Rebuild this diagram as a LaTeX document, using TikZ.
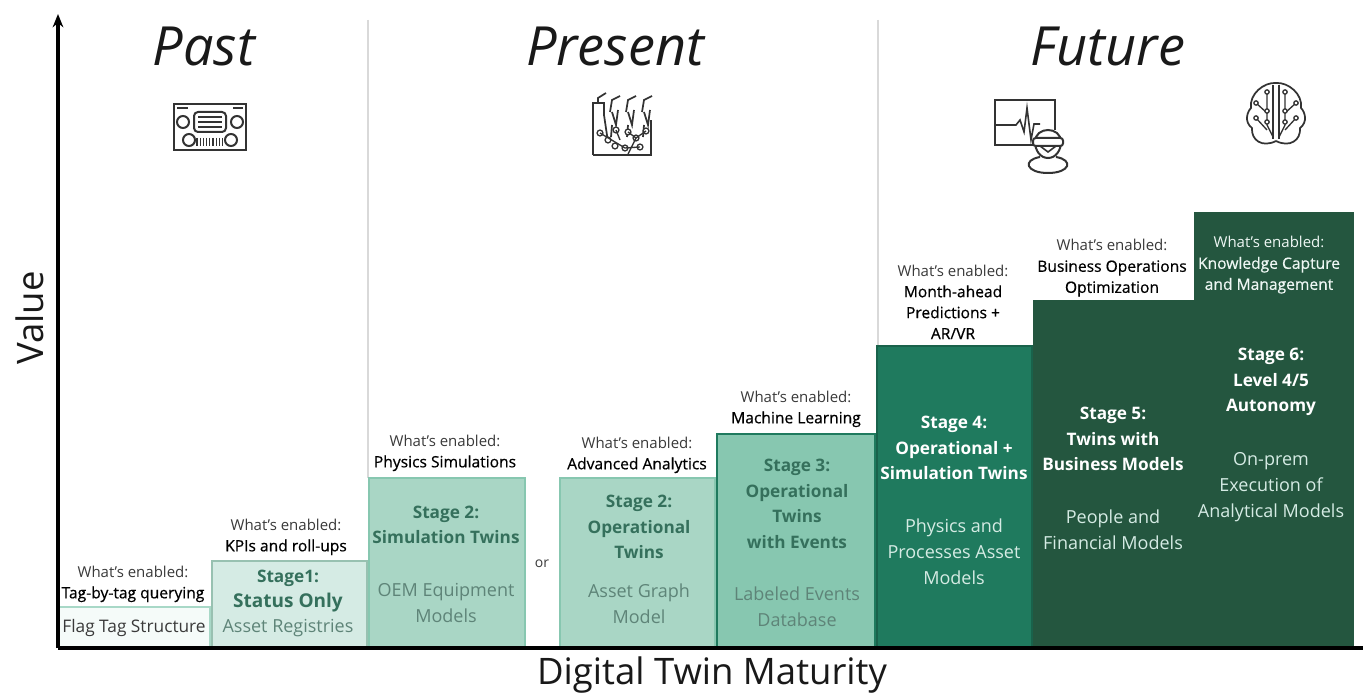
\documentclass[tikz,border=0pt]{standalone}
\usepackage{fontspec}
\setmainfont{Open Sans}
\newfontfamily\semi{Open Sans}[FakeBold=0.6]
\usetikzlibrary{arrows.meta}
\definecolor{lt}{HTML}{A8D8C7}
\definecolor{c0}{HTML}{F5FBF9}
\definecolor{c1}{HTML}{D5EBE4}
\definecolor{c2}{HTML}{A9D6C5}
\definecolor{c3}{HTML}{87C7B0}
\definecolor{c4}{HTML}{1F7A5E}
\definecolor{c5}{HTML}{24563F}
\definecolor{tg}{HTML}{35705C}
\definecolor{td}{HTML}{3A3A3A}
\definecolor{tm}{HTML}{5E8478}
\definecolor{ln}{HTML}{D9D9D9}
\tikzset{
  txt/.style={align=center,inner sep=0pt,font=\fontsize{17.3}{21}\selectfont,text=td},
  en/.style={align=center,inner sep=0pt,text=black,font=\semi\fontsize{15.6}{21}\selectfont},
  hd/.style={align=center,inner sep=0pt,font=\fontsize{17.2}{25.6}\selectfont\bfseries},
  bd/.style={align=center,inner sep=0pt,font=\fontsize{18}{26}\selectfont},
  era/.style={inner sep=0pt,font=\fontsize{54}{60}\selectfont\itshape,text=black!90},
  icon/.style={line width=1.5pt,draw=black!80},
}
\newcommand{\wh}[1]{{\rmfamily\fontsize{15}{21}\selectfont\textcolor{td}{What’s enabled:}}\\#1}
\begin{document}
\begin{tikzpicture}[x=0.75pt,y=-0.75pt,every node/.append style={scale=0.75}]
\useasboundingbox (0,0) rectangle (1363,695);
\fill[white] (0,0) rectangle (1363,695);
% separators
\coordinate (s1t) at (368,20); \coordinate (s1b) at (368,478);
\coordinate (s2t) at (878,20); \coordinate (s2b) at (878,346);
\draw[ln,line width=1.7pt] (s1t)--(s1b);
\draw[ln,line width=1.7pt] (s2t)--(s2b);
% boxes
\newcommand{\bx}[6]{\draw[draw=#6,fill=#5,line width=1.8pt] (#1,#2) rectangle (#3,#4);}
\bx{59}{607}{210}{647}{c0}{lt}
\bx{212}{561}{367}{647}{c1}{c2!90!black}
\bx{369}{478}{525}{647}{c2}{c3}
\bx{560}{478}{715}{647}{c2}{c3}
\bx{717}{434}{875}{647}{c3}{c4}
\bx{877}{346}{1032}{647}{c4}{c4!80!black}
\bx{1034}{301}{1193}{647}{c5}{c5}
\bx{1195}{213}{1353}{647}{c5}{c5}
% axes
\coordinate (o) at (58,648); \coordinate (ya) at (58,14); \coordinate (xa) at (1363,648);
\draw[black,line width=2.4pt,-{Stealth[length=10pt,width=8pt]}] (o)--(ya);
\draw[black,line width=2.4pt] (o)--(xa);
% eras
\node[era] (past) at (204,46) {Past};
\node[era] (present) at (615,46) {Present};
\node[era] (future) at (1108,46) {Future};
\node[inner sep=0pt,font=\fontsize{36.5}{40}\selectfont,rotate=90,text=black!90] (value) at (30,318) {Value};
\node[inner sep=0pt,font=\fontsize{36.5}{42}\selectfont,text=black!90] (dtm) at (712,675) {Digital Twin Maturity};
% enabled
\node[en] (e0) at (133,584) {\wh{Tag-by-tag querying}};
\node[en] (e1) at (286,537) {\wh{KPIs and roll-ups}};
\node[en] (e2) at (445,453) {\wh{Physics Simulations}};
\node[en] (e3) at (637,455) {\wh{Advanced Analytics}};
\node[en] (e4) at (796,409) {\wh{Machine Learning}};
\node[en] (e5) at (953,302) {\wh{Month-ahead\\Predictions +\\AR/VR}};
\node[en] (e6) at (1112,268) {\wh{Business Operations\\Optimization}};
\node[en,text=c1!40!white] (e7) at (1269,265) {{\rmfamily\fontsize{15}{21}\selectfont What’s enabled:}\\Knowledge Capture\\and Management};
% stages
\node[txt] (t0) at (134,628) {Flag Tag Structure};
\node[hd,text=tg] (h1) at (288,591) {Stage1:\\[-1pt]{\fontsize{19}{24}\selectfont Status Only}};
\node[bd,text=tm] (b1) at (288,628) {Asset Registries};
\node[hd,text=tg] (h2) at (446,525) {Stage 2:\\Simulation Twins};
\node[bd,text=tm] (b2) at (446,603) {OEM Equipment\\Models};
\node[inner sep=0pt,font=\fontsize{14}{16}\selectfont,text=td] (or) at (542,564) {or};
\node[hd,text=tg] (h3) at (639,527) {Stage 2:\\Operational\\Twins};
\node[bd,text=tm] (b3) at (639,604) {Asset Graph\\Model};
\node[hd,text=tg] (h4) at (797,504) {Stage 3:\\Operational\\Twins\\with Events};
\node[bd,text=tm] (b4) at (797,607) {Labeled Events\\Database};
\node[hd,text=white] (h5) at (954,448) {Stage 4:\\Operational +\\Simulation Twins};
\node[bd,text=c1] (b5) at (954,552) {Physics and\\Processes Asset\\Models};
\node[hd,text=white] (h6) at (1113,439) {Stage 5:\\Twins with\\Business Models};
\node[bd,text=c1] (b6) at (1113,530) {People and\\Financial Models};
\node[hd,text=white] (h7) at (1271,382) {Stage 6:\\Level 4/5\\Autonomy};
\node[bd,text=c1] (b7) at (1271,487) {On-prem\\Execution of\\Analytical Models};
% icon: panel
\begin{scope}[icon]
\draw (174,104) rectangle (246,150);
\draw[rounded corners=3pt] (194,112) rectangle (226,132);
\draw[line width=1pt] (198,117)--(222,117) (198,122)--(222,122) (198,127)--(222,127);
\draw (183,122) circle (4.5pt);
\draw (237,122) circle (4.5pt);
\draw (189,140) circle (4.5pt);
\draw (231,140) circle (4.5pt);
\draw[line width=1pt] (177,108)--(188,108) (233,108)--(243,108);
\foreach \i in {0,...,8} \draw[line width=1pt] (197+\i*3.2,138)--(197+\i*3.2,146);
\end{scope}
% icon: factory
\begin{scope}[icon,line width=1.3pt]
\draw (593,155)--(593,103)--(604,103)--(604,115)--(608,142);
\draw (598,103)--(598,98)--(606,93);
\foreach \d in {0,16,32}{
  \draw (610+\d,112)--(612+\d,100)--(620+\d,96) (612+\d,112)--(616+\d,125)--(618+\d,110);
  \draw (612+\d,125)--(611+\d,137);
}
\draw (593,155)--(651,155)--(651,120);
\foreach \x/\y in {600/133,608/140,615/146,625/148,640/147,616/130,628/132,646/131,636/138} \draw[line width=1pt,fill=white] (\x,\y) circle (2.2pt);
\draw[line width=1pt] (600,133)--(625,148)--(640,147) (628,132)--(636,138)--(628,154) (646,131)--(636,138) (616,130)--(620,140);
\end{scope}
% icon: monitor
\begin{scope}[icon]
\draw (1034,145)--(995,145)--(995,100)--(1055,100)--(1055,130);
\draw[line width=1.2pt] (995,125)--(1016,125)--(1020,120)--(1024,132)--(1027,108)--(1031,140)--(1034,124)--(1040,124);
\draw[fill=white] (1035,142) .. controls (1035,126) and (1061,126) .. (1061,142) .. controls (1061,150) and (1056,158) .. (1048,158) .. controls (1040,158) and (1035,150) .. (1035,142);
\draw[fill=white,rounded corners=2pt] (1033,138) rectangle (1063,146);
\draw[line width=1.2pt] (1040,146)--(1048,152)--(1056,146);
\draw (1040,157) .. controls (1022,160) and (1026,173) .. (1048,173) .. controls (1070,173) and (1074,160) .. (1056,157);
\end{scope}
% icon: brain
\begin{scope}[icon,line width=1.3pt]
\draw (1276,141) .. controls (1262,148) and (1251,140) .. (1252,128) .. controls (1244,122) and (1247,112) .. (1251,108) .. controls (1249,94) and (1264,82) .. (1276,83);
\draw (1276,141) .. controls (1290,148) and (1301,140) .. (1300,128) .. controls (1308,122) and (1305,112) .. (1301,108) .. controls (1303,94) and (1288,82) .. (1276,83);
\draw (1273,85)--(1273,139) (1279,85)--(1279,139);
\foreach \s in {-1,1}{
 \draw[line width=1pt] (1276+\s*9,92)--(1276+\s*9,125)--(1276+\s*3,137);
 \draw[line width=1pt] (1276+\s*20,103)--(1276+\s*9,113);
 \draw[line width=1pt] (1276+\s*20,118)--(1276+\s*9,130);
 \foreach \x/\y in {9/92,9/111,9/122,20/103,20/118} \draw[line width=1pt,fill=white] (1276+\s*\x,\y) circle (1.6pt);
}
\end{scope}
\end{tikzpicture}
\end{document}
